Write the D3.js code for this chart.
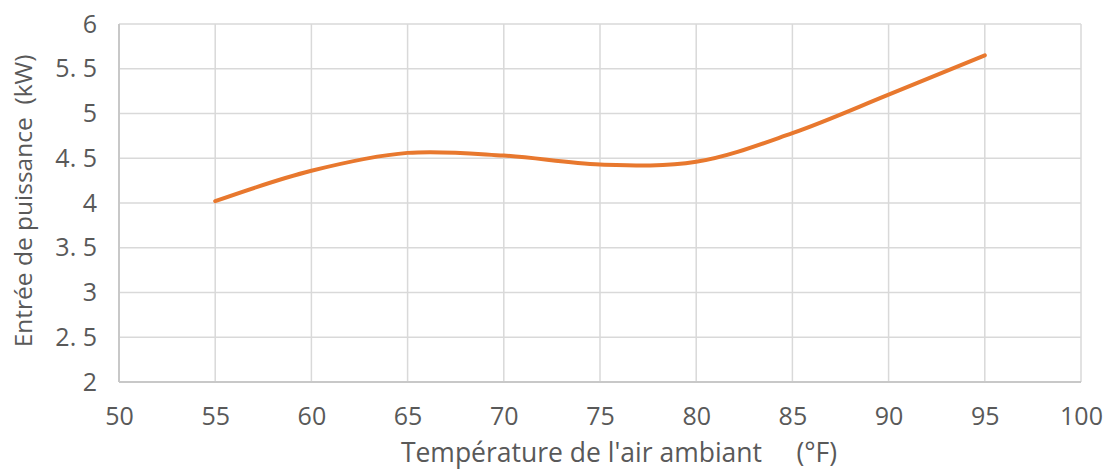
<!DOCTYPE html>
<html>
<head>
<meta charset="utf-8">
<script src="https://cdn.jsdelivr.net/npm/d3@7"></script>
<style>
  body { margin: 0; background: #fff; }
  text { font-family: "Open Sans", sans-serif; fill: #595959; }
</style>
</head>
<body>
<div id="chart"></div>
<script>
// data
var temps = [55, 60, 65, 70, 75, 80, 85, 90, 95];
var power = [4.02, 4.36, 4.56, 4.53, 4.43, 4.46, 4.78, 5.21, 5.65];
var xTicks = [50, 55, 60, 65, 70, 75, 80, 85, 90, 95, 100];
var yTicks = [2, 2.5, 3, 3.5, 4, 4.5, 5, 5.5, 6];
var yTickLabels = ["2", "2. 5", "3", "3. 5", "4", "4. 5", "5", "5. 5", "6"];

var width = 1109;
var height = 473;

// plot box (named so they don't clash with window.top etc.)
var plotLeft = 119, plotRight = 1081, plotTop = 24, plotBottom = 382;

var svg = d3.select("#chart")
  .append("svg")
  .attr("width", width)
  .attr("height", height);

var x = d3.scaleLinear().domain([50, 100]).range([plotLeft, plotRight]);
var y = d3.scaleLinear().domain([2, 6]).range([plotBottom, plotTop]);

// grid
svg.append("g")
  .selectAll("line")
  .data(yTicks)
  .enter()
  .append("line")
  .attr("x1", plotLeft).attr("x2", plotRight)
  .attr("y1", function(d) { return y(d); })
  .attr("y2", function(d) { return y(d); })
  .attr("stroke", "#d9d9d9")
  .attr("stroke-width", 1.5);

svg.append("g")
  .selectAll("line")
  .data(xTicks)
  .enter()
  .append("line")
  .attr("y1", plotTop).attr("y2", plotBottom)
  .attr("x1", function(d) { return x(d); })
  .attr("x2", function(d) { return x(d); })
  .attr("stroke", "#d9d9d9")
  .attr("stroke-width", 1.5);

// axis lines a bit darker
svg.append("line")
  .attr("x1", plotLeft).attr("x2", plotLeft).attr("y1", plotTop).attr("y2", plotBottom)
  .attr("stroke", "#c8c8c8").attr("stroke-width", 2);
svg.append("line")
  .attr("x1", plotLeft).attr("x2", plotRight).attr("y1", plotBottom).attr("y2", plotBottom)
  .attr("stroke", "#c8c8c8").attr("stroke-width", 2);

// tick labels
var xAxis = d3.axisBottom(x).tickValues(xTicks).tickSize(0).tickPadding(25);
svg.append("g")
  .attr("transform", "translate(0," + plotBottom + ")")
  .call(xAxis)
  .call(function(g) { g.select(".domain").remove(); })
  .selectAll("text")
  .attr("font-size", 25)
  .style("font-family", "'Open Sans', sans-serif")
  .attr("fill", "#5f5f5f");

var yAxis = d3.axisLeft(y).tickValues(yTicks).tickSize(0).tickPadding(22)
  .tickFormat(function(d, i) { return yTickLabels[i]; });
svg.append("g")
  .attr("transform", "translate(" + plotLeft + ",0)")
  .call(yAxis)
  .call(function(g) { g.select(".domain").remove(); })
  .selectAll("text")
  .attr("font-size", 25)
  .style("font-family", "'Open Sans', sans-serif")
  .attr("fill", "#5f5f5f");

// the curve
var line = d3.line()
  .x(function(d, i) { return x(temps[i]); })
  .y(function(d) { return y(d); })
  .curve(d3.curveCatmullRom.alpha(0.5));

svg.append("path")
  .datum(power)
  .attr("d", line)
  .attr("fill", "none")
  .attr("stroke", "#e8782e")
  .attr("stroke-width", 4)
  .attr("stroke-linecap", "round");

// axis titles
svg.append("text")
  .attr("x", 619)
  .attr("y", 462)
  .attr("text-anchor", "middle")
  .attr("font-size", 26.5)
  .style("white-space", "pre")
  .text("Température de l'air ambiant     (°F)");

svg.append("text")
  .attr("transform", "translate(32," + 201 + ")rotate(-90)")
  .attr("text-anchor", "middle")
  .attr("font-size", 24.5)
  .style("white-space", "pre")
  .text("Entrée de puissance  (kW)");
</script>
</body>
</html>
